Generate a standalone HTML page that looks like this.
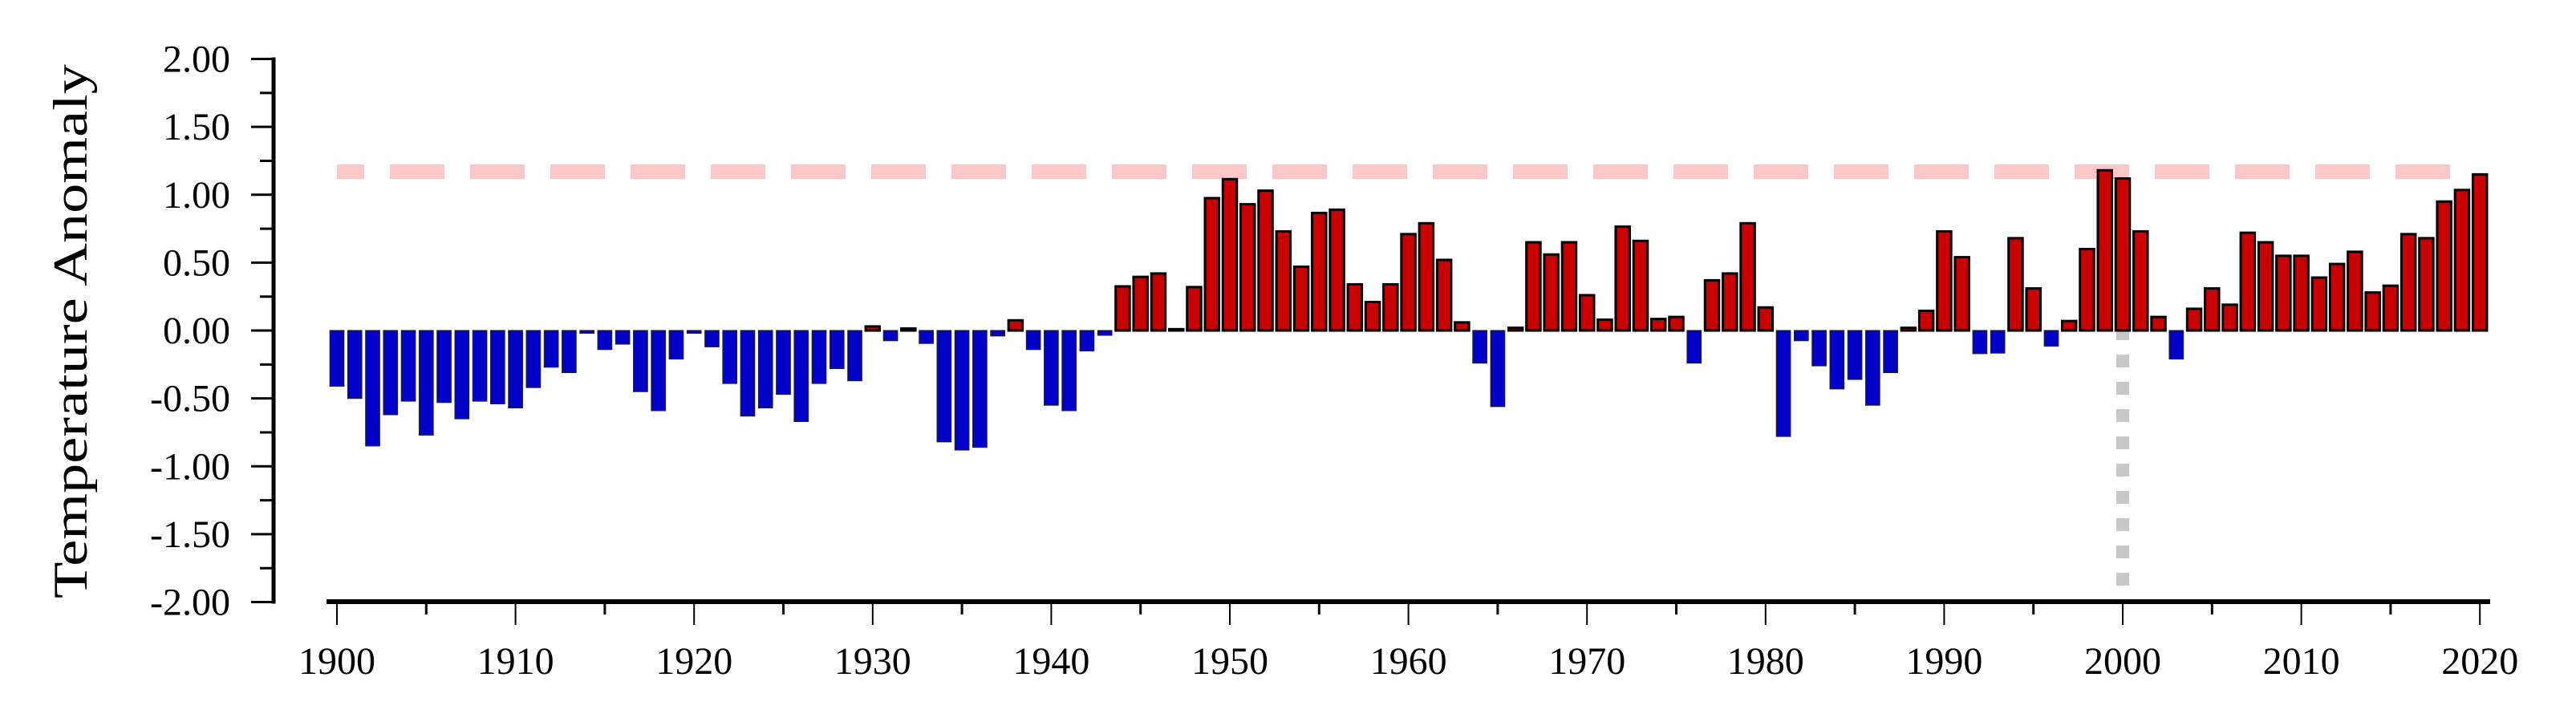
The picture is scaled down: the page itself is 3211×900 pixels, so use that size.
<!DOCTYPE html>
<html><head><meta charset="utf-8"><style>
html,body{margin:0;padding:0;background:#fff;}
svg{display:block;}
text{font-family:"Liberation Serif",serif;fill:#000;}
</style></head><body>
<svg id="chart" width="3211" height="900" viewBox="0 0 3211 900" xmlns="http://www.w3.org/2000/svg">
<text x="0" y="0" font-size="60" text-anchor="middle" textLength="666" lengthAdjust="spacingAndGlyphs" transform="translate(108,413) rotate(-90)">Temperature Anomaly</text>
<g id="grid"></g>
<g id="bars"></g>
<g id="axes"></g>
</svg>
<script>
const years = [];
for (let y = 1900; y <= 2020; y++) years.push(y);
const anomalies = [
-0.41,-0.50,-0.85,-0.62,-0.52,-0.77,-0.53,-0.65,-0.52,-0.54,
-0.57,-0.42,-0.27,-0.31,-0.02,-0.14,-0.10,-0.45,-0.59,-0.21,
-0.02,-0.12,-0.39,-0.63,-0.57,-0.47,-0.67,-0.39,-0.28,-0.37,
0.03,-0.075,0.015,-0.095,-0.82,-0.88,-0.86,-0.04,0.075,-0.14,
-0.55,-0.59,-0.15,-0.035,0.325,0.395,0.42,0.01,0.32,0.975,
1.115,0.93,1.03,0.73,0.47,0.866,0.89,0.34,0.21,0.34,
0.71,0.79,0.52,0.06,-0.24,-0.56,0.02,0.65,0.56,0.65,
0.26,0.08,0.765,0.66,0.085,0.10,-0.24,0.37,0.42,0.79,
0.17,-0.78,-0.075,-0.26,-0.43,-0.36,-0.55,-0.31,0.02,0.145,
0.73,0.54,-0.17,-0.166,0.68,0.31,-0.115,0.07,0.60,1.18,
1.12,0.73,0.10,-0.21,0.16,0.31,0.19,0.72,0.65,0.55,
0.55,0.39,0.49,0.58,0.28,0.33,0.71,0.68,0.95,1.035,1.15
];
const yTicks = [-2.00,-1.50,-1.00,-0.50,0.00,0.50,1.00,1.50,2.00];
const yTickLabels = ["-2.00","-1.50","-1.00","-0.50","0.00","0.50","1.00","1.50","2.00"];
const xTickYears = [1900,1910,1920,1930,1940,1950,1960,1970,1980,1990,2000,2010,2020];
const thresholdValue = [1.17];
const markerYear = [2000];

const NS = "http://www.w3.org/2000/svg";
function xs(yr){ return 420 + (yr - 1900) * 22.26; }
function ys(v){ return 412 - v * 169.25; }
function mk(tag, attrs, parent){
  const e = document.createElementNS(NS, tag);
  for (const k in attrs) e.setAttribute(k, attrs[k]);
  parent.appendChild(e);
  return e;
}
const grid = document.getElementById('grid');
const bars = document.getElementById('bars');
const axes = document.getElementById('axes');

// threshold dashed line
const th = mk('line', {x1: 420, x2: 3080, y1: ys(thresholdValue[0]), y2: ys(thresholdValue[0]), stroke: '#ffc8c8', 'stroke-width': 18, 'stroke-dasharray': '68 32', 'stroke-dashoffset': 34}, grid);



// vertical marker
const vm = mk('line', {x1: xs(markerYear[0]), x2: xs(markerYear[0]), y1: ys(0), y2: ys(-1.92), stroke: '#c8c8c8', 'stroke-width': 16, 'stroke-dasharray': '16 18', 'stroke-dashoffset': 4}, grid);



// bars
const bw = 17.5;
years.forEach((yr, i) => {
  const v = anomalies[i];
  const top = v >= 0 ? ys(v) : ys(0);
  const h = Math.max(Math.abs(ys(v) - ys(0)), 1);
  const pos = v >= 0;
  const r = mk('rect', {x: xs(yr) - bw/2, y: top, width: bw, height: h,
    fill: pos ? '#c80000' : '#0000c8', stroke: pos ? '#000' : '#222', 'stroke-width': pos ? 3 : 1.2}, bars);
  
  
});

// y axis
const ya = mk('line', {x1: 341, x2: 341, y1: ys(2) - 2, y2: ys(-2) + 2, stroke: '#000', 'stroke-width': 5}, axes);


for (let k = 0; k <= 16; k++) {
  const v = -2 + k * 0.25;
  const major = k % 2 === 0;
  const t = mk('line', {x1: major ? 313 : 324, x2: 341, y1: ys(v), y2: ys(v), stroke: '#000', 'stroke-width': 3}, axes);
  
  
}
yTicks.forEach((v, i) => {
  const t = mk('text', {x: 287, y: ys(v) + 16, 'font-size': 48, 'text-anchor': 'end'}, axes);
  t.textContent = yTickLabels[i];
  
  
});

// x axis
const xa = mk('line', {x1: 407, x2: 3104, y1: 750, y2: 750, stroke: '#000', 'stroke-width': 6}, axes);


for (let yr = 1900; yr <= 2020; yr += 5) {
  const major = yr % 10 === 0;
  const t = mk('line', {x1: xs(yr), x2: xs(yr), y1: 750, y2: major ? 779 : 766, stroke: '#000', 'stroke-width': major ? 2 : 3}, axes);
  
  
}
xTickYears.forEach(yr => {
  const t = mk('text', {x: xs(yr), y: 840, 'font-size': 48, 'text-anchor': 'middle'}, axes);
  t.textContent = String(yr);
  
  
});
</script>
</body></html>
